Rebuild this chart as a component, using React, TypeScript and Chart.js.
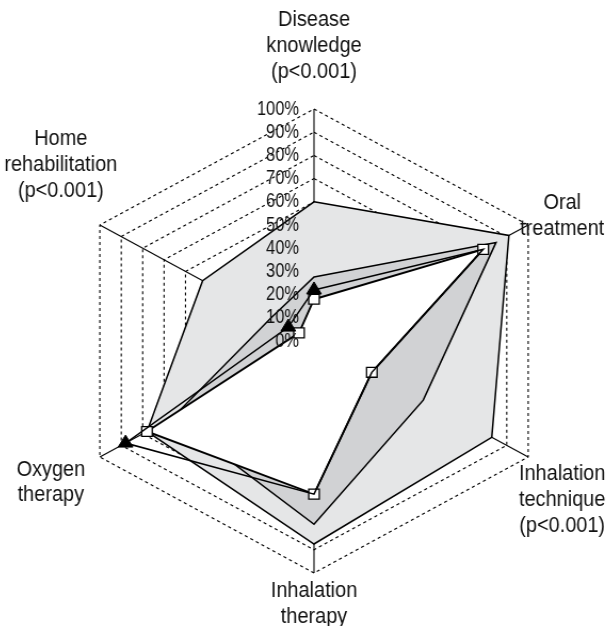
import React, { useEffect, useRef } from 'react';
import { Chart, registerables } from 'chart.js';

Chart.register(...registerables);

// ---- data ----
const categoryLines: string[][] = [
  ['Disease', 'knowledge', '(p<0.001)'],
  ['Oral', 'treatment'],
  ['Inhalation', 'technique', '(p<0.001)'],
  ['Inhalation', 'therapy'],
  ['Oxygen', 'therapy'],
  ['Home', 'rehabilitation', '(p<0.001)'],
];
const outerValues = [60, 91, 83, 87.5, 78, 52];
const bandValues = [27.6, 85, 51, 79, 66, 20];
const triangleValues = [22, 79, 27, 66, 88, 12];
const squareValues = [18, 79, 27, 66, 78, 7];
const tickValues = [0, 10, 20, 30, 40, 50, 60, 70, 80, 90, 100];
const tickLabels = ['0%', '10%', '20%', '30%', '40%', '50%', '60%', '70%', '80%', '90%', '100%'];

// ---- layout / style ----
const STRETCH = 1.066;
const CENTER_X = 314;
const TEXT = '#111';
const LABEL_FONT = '22px "Liberation Sans", Arial, sans-serif';
const LABEL_SQUEEZE = 0.85;
const TICK_FONT = '20px "Liberation Sans", Arial, sans-serif';
const TICK_SQUEEZE = 0.77;
const LINE_H = 25.7;
const labelOffsets: number[][] = [
  [0, -63],
  [34, -9],
  [34, 43],
  [0, 31],
  [-49, 25.5],
  [-39, -60],
];

function squeezedText(ctx: CanvasRenderingContext2D, t: string, x: number, y: number, k: number) {
  ctx.save();
  ctx.translate(x, y);
  ctx.scale(k, 1);
  ctx.fillText(t, 0, 0);
  ctx.restore();
}

const overlayPlugin = {
  id: 'overlayText',
  afterDraw(chart: any) {
    const s = chart.scales.r;
    const ctx = chart.ctx as CanvasRenderingContext2D;
    ctx.save();
    ctx.fillStyle = TEXT;
    ctx.textBaseline = 'middle';
    ctx.font = TICK_FONT;
    ctx.textAlign = 'right';
    tickValues.forEach((v, i) => {
      const d = s.getDistanceFromCenterForValue(v);
      squeezedText(ctx, tickLabels[i], s.xCenter - 15 / STRETCH, s.yCenter - d, TICK_SQUEEZE);
    });
    ctx.font = LABEL_FONT;
    ctx.textAlign = 'center';
    categoryLines.forEach((lines, i) => {
      const p = s.getPointPosition(i, s.drawingArea);
      const [dx, dy] = labelOffsets[i];
      const cx = p.x + dx / STRETCH;
      const cy = p.y + dy;
      lines.forEach((t, k) => {
        squeezedText(ctx, t, cx, cy + (k - (lines.length - 1) / 2) * LINE_H, LABEL_SQUEEZE);
      });
    });
    ctx.restore();
  },
};

export default function App() {
  const ref = useRef<HTMLCanvasElement>(null);
  useEffect(() => {
    if (!ref.current) return;
    const chart = new Chart(ref.current, {
      type: 'radar',
      data: {
        labels: categoryLines as any,
        datasets: [
          {
            data: triangleValues,
            fill: false,
            borderColor: '#000',
            borderWidth: 1.5,
            pointStyle: 'triangle',
            pointRadius: [8, 0, 0, 0, 8, 8],
            pointBackgroundColor: '#000',
            pointBorderColor: '#000',
            pointBorderWidth: 1,
          },
          {
            data: squareValues,
            fill: true,
            backgroundColor: '#ffffff',
            borderColor: '#000',
            borderWidth: 1.9,
            pointStyle: 'rect',
            pointRadius: 7,
            pointBackgroundColor: '#ffffff',
            pointBorderColor: '#000',
            pointBorderWidth: 1.3,
          },
          {
            data: bandValues,
            fill: true,
            backgroundColor: '#d1d2d4',
            borderColor: '#000',
            borderWidth: 1.5,
            pointRadius: 0,
          },
          {
            data: outerValues,
            fill: true,
            backgroundColor: '#e5e6e7',
            borderColor: '#000',
            borderWidth: 1.5,
            pointRadius: 0,
          },
        ],
      },
      options: {
        responsive: false,
        animation: false,
        devicePixelRatio: 1,
        events: [],
        layout: { padding: { top: 109, bottom: 53, left: 82, right: 61 } },
        plugins: { legend: { display: false }, tooltip: { enabled: false } },
        elements: { line: { tension: 0 } },
        scales: {
          r: {
            min: 0,
            max: 100,
            ticks: { stepSize: 10, display: false, z: 1 } as any,
            grid: { color: '#000', lineWidth: 1.1 },
            border: { dash: [3, 3] } as any,
            angleLines: { color: '#000', lineWidth: 1.1 },
            pointLabels: { display: false },
          },
        },
      },
      plugins: [overlayPlugin],
    });
    return () => chart.destroy();
  }, []);

  return (
    <div style={{ position: 'fixed', left: 0, top: 0, width: 607, height: 626, overflow: 'hidden', background: '#fff' }}>
      <canvas
        ref={ref}
        width={607}
        height={626}
        style={{
          width: '607px',
          height: '626px',
          display: 'block',
          transform: `scaleX(${STRETCH})`,
          transformOrigin: `${CENTER_X}px 0px`,
        }}
      />
    </div>
  );
}
